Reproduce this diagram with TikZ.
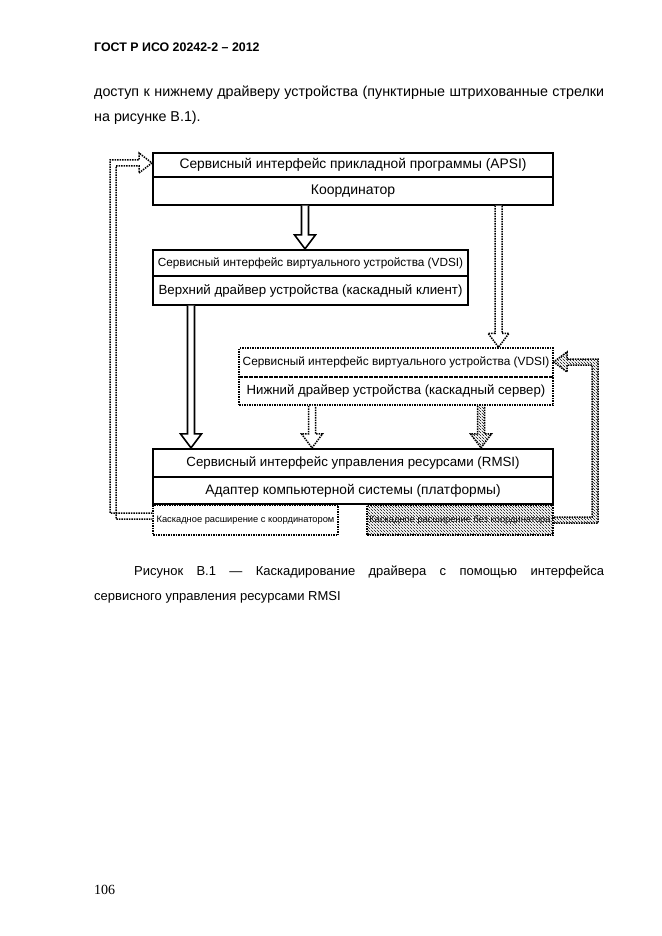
\documentclass[tikz,border=0pt]{standalone}
\usepackage{fontspec}
\setmainfont{Liberation Sans}
\newfontfamily\serifpg{Liberation Serif}
\usetikzlibrary{patterns,calc}
\pgfdeclarepatternformonly{densehatch}{\pgfqpoint{-1pt}{-1pt}}{\pgfqpoint{4pt}{4pt}}{\pgfqpoint{3pt}{3pt}}{%
 \pgfsetlinewidth{0.6pt}\pgfpathmoveto{\pgfqpoint{-0.1pt}{3.1pt}}\pgfpathlineto{\pgfqpoint{3.1pt}{-0.1pt}}\pgfusepath{stroke}}
\tikzset{
 txt/.style={inner sep=0pt, font=\fontsize{13}{15}\selectfont},
 cellbase/.style={rectangle, inner sep=0pt, anchor=center},
 thickcell/.style={cellbase, draw, line width=2.2pt},
 thincell/.style={cellbase, draw, line width=1.4pt},
 dotcell/.style={cellbase, draw, line width=1.5pt, dash pattern=on 1.5pt off 1pt},
 fs/.style={font=\fontsize{#1}{#1}\selectfont},
 solidarrow/.style={draw, line width=1.6pt, fill=white, line join=miter},
 dotarrow/.style={draw, line width=1.5pt, dash pattern=on 1.5pt off 1pt, fill=white},
 hatcharrow/.style={draw, line width=1.5pt, dash pattern=on 1.5pt off 1pt, pattern=densehatch},
}
\newcommand\vblock[3]{%
 \path[#1] let \p1=(#2), \p2=(#3) in
 ({\x1-3.5pt},\y1) -- ({\x1-3.5pt},{\y2+14pt}) -- ({\x1-10.5pt},{\y2+14pt}) -- (\x1,\y2) -- ({\x1+10.5pt},{\y2+14pt}) -- ({\x1+3.5pt},{\y2+14pt}) -- ({\x1+3.5pt},\y1);}
\begin{document}
\begin{tikzpicture}[x=1pt,y=-1pt]
\useasboundingbox[fill=white] (0,0) rectangle (661,936);
% page text
\node[txt, anchor=base west, font=\bfseries\fontsize{12.4}{14}\selectfont] (hdr) at (94,52) {ГОСТ Р ИСО 20242-2 – 2012};
\node[txt, anchor=base west, fs=14.3] (body1) at (94,97) {\makebox[510pt][s]{доступ к нижнему драйверу устройства (пунктирные штрихованные стрелки}};
\node[txt, anchor=base west, fs=14.3] (body2) at (94,122) {на рисунке В.1).};
\node[txt, anchor=base west] (cap1) at (134,575) {\makebox[470pt][s]{Рисунок В.1 — Каскадирование драйвера с помощью интерфейса}};
\node[txt, anchor=base west] (cap2) at (94,600) {сервисного управления ресурсами RMSI};
\node[txt, anchor=base west, font=\serifpg\fontsize{14}{16}\selectfont] (pg) at (94,894) {106};
% boxes: lower (thin) cells first
\node[thincell, minimum width=400, minimum height=28, fs=14] (koord) at (353,191) {Координатор};
\node[thickcell, minimum width=400, minimum height=24, fs=13.8] (apsi) at (353,165) {Сервисный интерфейс прикладной программы (APSI)};
\node[thincell, minimum width=315, minimum height=29, fs=13.3] (vdrv) at (310.5,290.5) {Верхний драйвер устройства (каскадный клиент)};
\node[thickcell, minimum width=315, minimum height=26, fs=11.8] (vdsiU) at (310.5,263) {Сервисный интерфейс виртуального устройства (VDSI)};
\node[dotcell, minimum width=314, minimum height=29, fs=11.85] (vdsiL) at (396,362.5) {Сервисный интерфейс виртуального устройства (VDSI)};
\node[dotcell, minimum width=314, minimum height=28, fs=13.2] (ldrv) at (396,391) {Нижний драйвер устройства (каскадный сервер)};
\node[thincell, minimum width=400, minimum height=27, fs=13.7] (adapt) at (353,490.5) {Адаптер компьютерной системы (платформы)};
\node[thickcell, minimum width=400, minimum height=28, fs=13.3] (rmsi) at (353,463) {Сервисный интерфейс управления ресурсами (RMSI)};
\node[dotcell, line width=1.2pt, minimum width=185, minimum height=30, fs=9.3] (extL) at (245.5,520) {Каскадное расширение с координатором};
\node[dotcell, line width=1.2pt, minimum width=186, minimum height=30, pattern=densehatch, fs=9.3] (extR) at (460,520) {Каскадное расширение без координатора};
% arrows
\coordinate (xa) at (305,0);
\coordinate (xb) at (191,0);
\coordinate (xc) at (498.5,0);
\coordinate (xd) at (312,0);
\coordinate (xe) at (481,0);
\vblock{solidarrow}{xa |- koord.south}{vdsiU.north}
\vblock{solidarrow}{xb |- vdrv.south}{rmsi.north}
\vblock{dotarrow}{xc |- koord.south}{vdsiL.north}
\vblock{dotarrow}{xd |- ldrv.south}{rmsi.north}
\vblock{hatcharrow}{xe |- ldrv.south}{rmsi.north}
% loops
\path[dotarrow] let \p1=(extL.west), \p2=(apsi.west) in
 (\x1,{\y1+7pt}) -- (110pt,{\y1+7pt}) -- (110pt,-160pt) -- (139pt,-160pt) -- (139pt,-153pt) -- (\x2,-163pt) -- (139pt,-173pt) -- (139pt,-166pt) -- (116pt,-166pt) -- (116pt,{\y1+1pt}) -- (\x1,{\y1+1pt});
\path[hatcharrow] let \p1=(extR.east), \p2=(vdsiL.east) in
 (\x1,{\y1-3pt}) -- (598pt,{\y1-3pt}) -- (598pt,-359pt) -- (567pt,-359pt) -- (567pt,-352pt) -- (\x2,-362pt) -- (567pt,-372pt) -- (567pt,-365pt) -- (592pt,-365pt) -- (592pt,{\y1+3pt}) -- (\x1,{\y1+3pt});
\end{tikzpicture}
\end{document}
